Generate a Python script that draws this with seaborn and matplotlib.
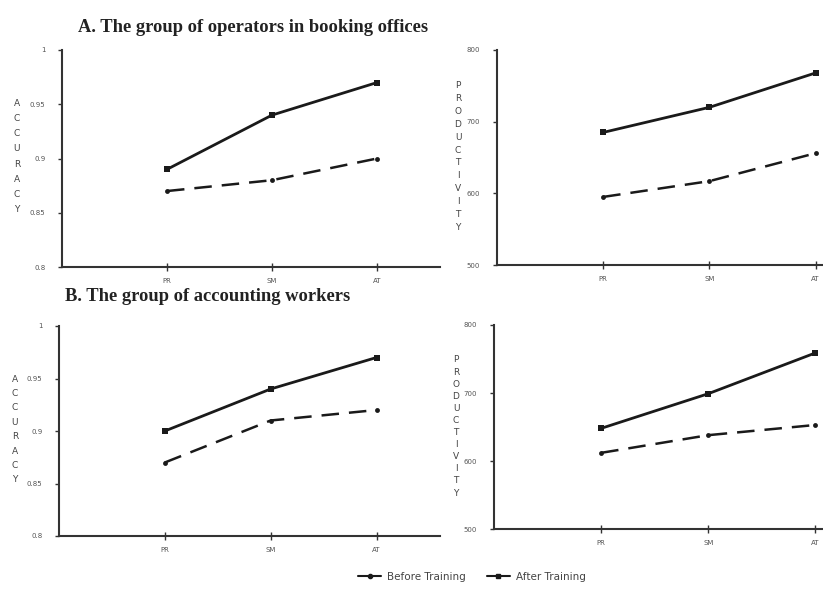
import matplotlib
matplotlib.use("Agg")
import matplotlib.pyplot as plt
import seaborn as sns
import pandas as pd
from matplotlib.lines import Line2D

sns.set_theme(style="white")
plt.rcParams['font.family'] = ['DejaVu Sans']

categories = ["PR", "SM", "AT"]

acc_a_before = [0.87, 0.88, 0.90]
acc_a_after = [0.89, 0.94, 0.97]
prod_a_before = [595, 617, 656]
prod_a_after = [685, 720, 768]

acc_b_before = [0.87, 0.91, 0.92]
acc_b_after = [0.90, 0.94, 0.97]
prod_b_before = [612, 638, 653]
prod_b_after = [648, 699, 759]

acc_ticks = [0.8, 0.85, 0.9, 0.95, 1.0]
acc_ticklabels = ["0.8", "0.85", "0.9", "0.95", "1"]
prod_ticks = [500, 600, 700, 800]
prod_ticklabels = ["500", "600", "700", "800"]

title_a = "A. The group of operators in booking offices"
title_b = "B. The group of accounting workers"
ylab_acc = "ACCURACY"
ylab_prod = "PRODUCTIVITY"
legend_labels = ["Before Training", "After Training"]

fig = plt.figure(figsize=(8.23, 5.9), dpi=100)

LINE = "#1a1a1a"
SPINE = "#333333"
TICKC = "#555555"

def panel(rect, before, after, yticks, yticklabels, ylim, xlim, ylab, ylab_x, ylab_y0, ylab_y1):
    ax = fig.add_axes(rect)
    df = pd.DataFrame({"cat": categories * 2,
                       "val": list(before) + list(after),
                       "grp": [legend_labels[0]] * 3 + [legend_labels[1]] * 3})
    sns.lineplot(data=df[df.grp == legend_labels[0]], x="cat", y="val", ax=ax,
                 color=LINE, lw=1.8, marker="o", markersize=3.5, markeredgewidth=0,
                 linestyle=(0, (7, 4)), legend=False)
    sns.lineplot(data=df[df.grp == legend_labels[1]], x="cat", y="val", ax=ax,
                 color=LINE, lw=2.0, marker="s", markersize=4.5, markeredgewidth=0,
                 legend=False)
    ax.set_xlim(*xlim)
    ax.set_ylim(*ylim)
    ax.set_yticks(yticks)
    ax.set_yticklabels(yticklabels)
    ax.set_xlabel("")
    ax.set_ylabel("")
    for s in ["top", "right"]:
        ax.spines[s].set_visible(False)
    for s in ["left", "bottom"]:
        ax.spines[s].set_color(SPINE)
        ax.spines[s].set_linewidth(1.5)
    ax.tick_params(axis="y", direction="out", length=3, width=1, color=SPINE,
                   labelsize=5, labelcolor=TICKC, pad=9, left=True)
    ax.tick_params(axis="x", direction="inout", length=6, width=1, color=SPINE,
                   labelsize=5, labelcolor=TICKC, pad=5, bottom=True)
    n = len(ylab)
    for i, ch in enumerate(ylab):
        yy = ylab_y0 + (ylab_y1 - ylab_y0) * i / (n - 1)
        fig.text(ylab_x, yy, ch, fontsize=6.5, color="#444444",
                 ha="center", va="center")
    return ax

# pixel helpers
W, H = 823, 590
def fx(px): return px / W
def fy(py): return 1 - py / H

ax1 = panel([fx(62), fy(267), fx(440) - fx(62), fy(50) - fy(267)],
            acc_a_before, acc_a_after, acc_ticks, acc_ticklabels, (0.8, 1.0),
            (-1.0, 2.6), ylab_acc, fx(17), fy(103), fy(210))
ax2 = panel([fx(497), fy(265), fx(823) - fx(497), fy(50) - fy(265)],
            prod_a_before, prod_a_after, prod_ticks, prod_ticklabels, (500, 800),
            (-1.0, 2.07), ylab_prod, fx(458), fy(86), fy(227))
ax3 = panel([fx(59), fy(536), fx(440) - fx(59), fy(326) - fy(536)],
            acc_b_before, acc_b_after, acc_ticks, acc_ticklabels, (0.8, 1.0),
            (-1.0, 2.6), ylab_acc, fx(15), fy(379), fy(480))
ax4 = panel([fx(494), fy(529), fx(823) - fx(494), fy(325) - fy(529)],
            prod_b_before, prod_b_after, prod_ticks, prod_ticklabels, (500, 800),
            (-1.0, 2.07), ylab_prod, fx(456), fy(360), fy(493))

fig.text(fx(253), fy(27), title_a, fontsize=13.3, fontweight="bold",
         family="Liberation Serif", color="#222222", ha="center", va="center")
fig.text(fx(208), fy(297), title_b, fontsize=13.3, fontweight="bold",
         family="Liberation Serif", color="#222222", ha="center", va="center")

handles = [Line2D([], [], color=LINE, lw=1.5, marker="o", markersize=3),
           Line2D([], [], color=LINE, lw=1.5, marker="s", markersize=3.5)]
fig.legend(handles, legend_labels, loc="center", bbox_to_anchor=(fx(472), fy(577)),
           ncol=2, frameon=False, fontsize=7.5, labelcolor="#444444",
           handlelength=2.2, handletextpad=0.6, columnspacing=2.0)

fig.savefig("out.png", dpi=100)
